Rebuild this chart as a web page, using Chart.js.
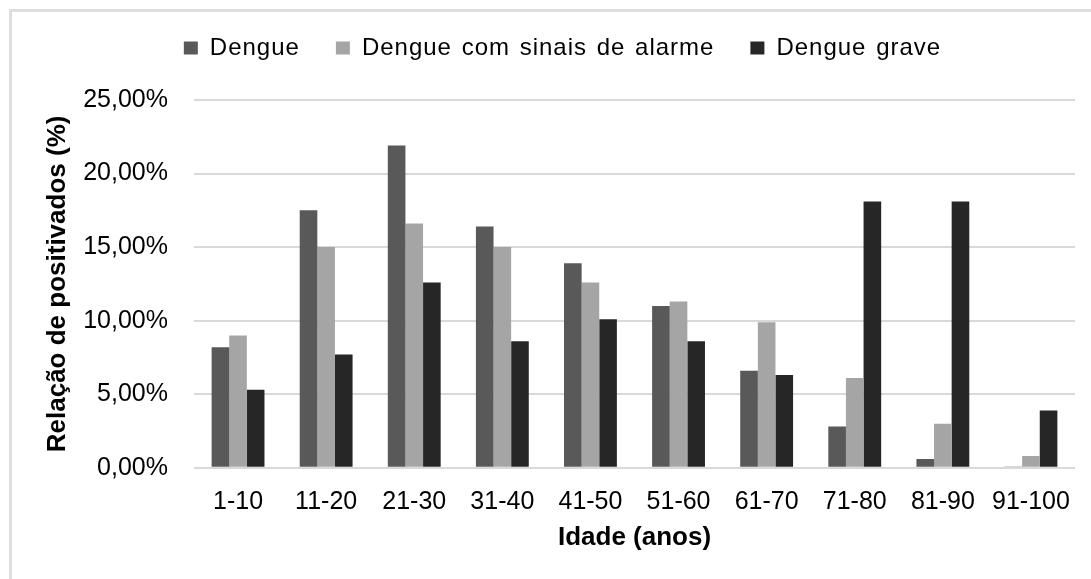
<!DOCTYPE html>
<html>
<head>
<meta charset="utf-8">
<script src="https://cdn.jsdelivr.net/npm/chart.js@4.4.1/dist/chart.umd.min.js"></script>
<style>
  html, body { margin: 0; padding: 0; background: #fff; }
  #wrap { position: relative; width: 1091px; height: 579px; overflow: hidden; }
  #frame {
    position: absolute; left: 9px; top: 9px; width: 1200px; height: 700px;
    border-top: 3px solid #dedede; border-left: 3px solid #dedede;
  }
  #chart { position: absolute; left: 0; top: 0; }
</style>
</head>
<body>
<div id="wrap">
  <div id="frame"></div>
  <canvas id="chart" width="1091" height="579"></canvas>
</div>
<script>
// Faixas etárias
const ageGroups = ['1-10', '11-20', '21-30', '31-40', '41-50', '51-60', '61-70', '71-80', '81-90', '91-100'];

// Relação de positivados (%) por classificação
const dengue = [8.2, 17.5, 21.9, 16.4, 13.9, 11.0, 6.6, 2.8, 0.6, 0.05];
const dengueAlarme = [9.0, 15.0, 16.6, 15.0, 12.6, 11.3, 9.9, 6.1, 3.0, 0.8];
const dengueGrave = [5.3, 7.7, 12.6, 8.6, 10.1, 8.6, 6.3, 18.1, 18.1, 3.9];

const seriesNames = ['Dengue', 'Dengue com sinais de alarme', 'Dengue grave'];
const seriesColors = ['#595959', '#a5a5a5', '#262626'];

const Y_MAX = 25;
const Y_STEP = 5;

const FONT = '"Liberation Sans", Arial, sans-serif';

// legend: slightly spaced text, extra room underneath and a small shift right
function spaceText(c, on) {
    c.letterSpacing = on ? '1px' : '0px';
    c.wordSpacing = on ? '2px' : '0px';
}

const legendTweak = {
    id: 'legendTweak',
    beforeInit(chart) {
        const legend = chart.legend;
        const fit = legend.fit;
        const draw = legend.draw;
        legend.fit = function () {
            spaceText(this.ctx, true);
            fit.call(this);
            spaceText(this.ctx, false);
            this.height += 30;
        };
        legend.draw = function () {
            const c = this.ctx;
            c.save();
            spaceText(c, true);
            c.translate(22, 0);
            draw.call(this);
            c.restore();
            spaceText(c, false);
        };
    }
};

const ctx = document.getElementById('chart').getContext('2d');

new Chart(ctx, {
    type: 'bar',
    data: {
        labels: ageGroups,
        datasets: [dengue, dengueAlarme, dengueGrave].map((values, i) => ({
            label: seriesNames[i],
            data: values,
            backgroundColor: seriesColors[i],
            borderWidth: 0,
            categoryPercentage: 0.6,
            barPercentage: 1.0
        }))
    },
    options: {
        responsive: false,
        animation: false,
        devicePixelRatio: 1,
        layout: { padding: { left: 6, right: 16, top: 0, bottom: 20 } },
        plugins: {
            legend: {
                position: 'top',
                labels: {
                    color: '#000',
                    font: { family: FONT, size: 24 },
                    boxWidth: 14,
                    boxHeight: 13,
                    padding: 36
                }
            },
            tooltip: { enabled: false }
        },
        scales: {
            x: {
                grid: { display: false },
                border: { display: false },
                ticks: {
                    color: '#000',
                    font: { family: FONT, size: 25 },
                    padding: 11,
                    maxRotation: 0
                },
                title: {
                    display: true,
                    text: 'Idade (anos)',
                    color: '#000',
                    font: { family: FONT, size: 26, weight: 'bold' },
                    padding: { top: -6, bottom: 6 }
                }
            },
            y: {
                min: 0,
                max: Y_MAX,
                grid: { color: '#d9d9d9', lineWidth: 2, drawTicks: false },
                border: { display: false },
                ticks: {
                    stepSize: Y_STEP,
                    color: '#000',
                    font: { family: FONT, size: 25 },
                    padding: 26,
                    callback: v => v.toFixed(2).replace('.', ',') + '%'
                },
                title: {
                    display: true,
                    text: 'Relação de positivados (%)',
                    color: '#000',
                    font: { family: FONT, size: 26, weight: 'bold' },
                    padding: { top: 36, bottom: -16 }
                }
            }
        }
    },
    plugins: [legendTweak]
});
</script>
</body>
</html>
